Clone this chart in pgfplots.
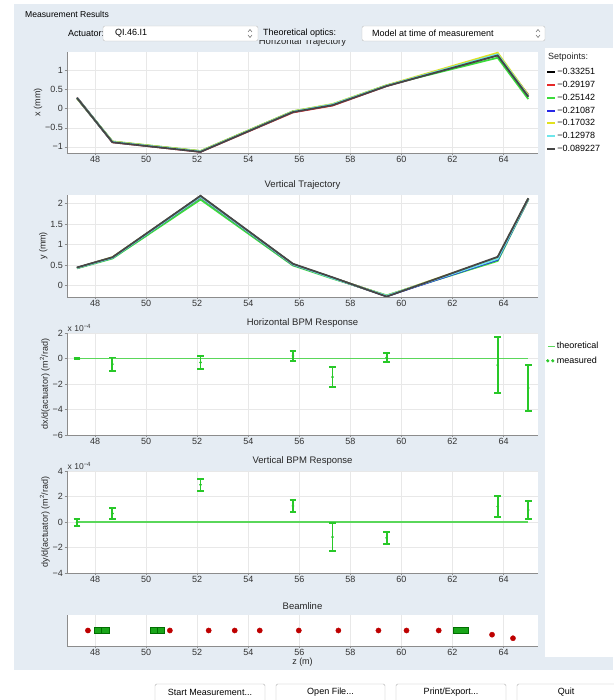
\documentclass[border=0pt]{standalone}
\usepackage{fontspec}
\setmainfont{Liberation Sans}
\usepackage{pgfplots}
\pgfplotsset{compat=1.18}
\definecolor{panel}{RGB}{229,236,243}
\definecolor{meas}{RGB}{40,200,40}
\definecolor{theo}{RGB}{90,215,90}
\definecolor{sp1}{RGB}{0,0,0}
\definecolor{sp2}{RGB}{230,40,40}
\definecolor{sp3}{RGB}{60,220,60}
\definecolor{sp4}{RGB}{40,40,230}
\definecolor{sp5}{RGB}{225,225,30}
\definecolor{sp6}{RGB}{110,230,235}
\definecolor{sp7}{RGB}{70,70,70}
\definecolor{bred}{RGB}{190,0,0}
\definecolor{bgreen}{RGB}{25,165,25}
\definecolor{bgreend}{RGB}{0,110,0}
\newcommand\fnt{\fontsize{9}{10}\selectfont}
\pgfplotsset{
  gui/.style={
    scale only axis, width=471pt,
    xmin=46.9, xmax=65.35,
    xtick={48,50,...,64},
    axis x line*=bottom, axis y line*=left,
    axis line style={black!45},
    tick style={black!45, line width=0.4pt},
    tick align=outside, major tick length=2.5pt,
    grid=major, major grid style={black!9, line width=0.3pt},
    ticklabel style={font=\fnt, text=black!80},
    xticklabel style={inner sep=1pt},
    yticklabel style={inner sep=1.5pt},
    /pgf/number format/assume math mode=true,
    every axis title/.style={at={(0.5,1)}, anchor=south, yshift=2pt, font=\fontsize{9.5}{11}\selectfont, text=black!85},
    label style={font=\fnt, text=black!85},
    ylabel style={inner sep=1pt},
    xlabel style={inner sep=1pt},
    axis background/.style={fill=white},
    legend cell align=left,
  },
  ebar/.style={meas, only marks, mark=*, mark size=1.1pt,
    error bars/.cd, y dir=both, y explicit,
    error bar style={line width=1.9pt, meas},
    error mark options={rotate=90, mark size=3.3pt, line width=1.9pt, meas},
    /pgfplots/.cd},
}
\begin{document}
\begin{tikzpicture}[x=1pt,y=1pt]
\useasboundingbox (0,0) rectangle (613,700);
\fill[white] (0,0) rectangle (613,700);
\fill[panel] (14,30) rectangle (613,696);
\fill[white] (545,43) rectangle (613,652);

% ---------- Horizontal trajectory
\begin{axis}[gui, name=ax1, at={(67pt,547pt)}, anchor=south west, height=101pt,
  ymin=-1.16, ymax=1.48, ytick={-1,-0.5,0,0.5,1}, yticklabels={−1,−0.5,0,0.5,1},
  ylabel={x (mm)}, title={Horizontal Trajectory},
  legend style={at={(1,1)}, anchor=north west, xshift=8pt, yshift=-15pt, draw=none, fill=none,
    font=\fnt, row sep=2.6pt, inner sep=0pt, nodes={inner sep=1.2pt}},
  legend image code/.code={\draw[#1, line width=2pt] (0pt,0pt) -- (8pt,0pt);},
  every axis plot/.append style={line width=1.8pt}]
\addplot[sp1] coordinates {(47.29,0.28) (48.68,-0.87) (52.13,-1.12) (55.75,-0.08) (57.30,0.10) (59.42,0.60) (63.77,1.41) (64.97,0.34)};
\addlegendentry{−0.33251}
\addplot[sp2] coordinates {(47.29,0.29) (48.68,-0.88) (52.13,-1.13) (55.75,-0.10) (57.30,0.08) (59.42,0.59) (63.77,1.40) (64.97,0.36)};
\addlegendentry{−0.29197}
\addplot[sp3] coordinates {(47.29,0.28) (48.68,-0.86) (52.13,-1.11) (55.75,-0.07) (57.30,0.11) (59.42,0.61) (63.77,1.33) (64.97,0.25)};
\addlegendentry{−0.25142}
\addplot[sp4] coordinates {(47.29,0.28) (48.68,-0.87) (52.13,-1.12) (55.75,-0.08) (57.30,0.10) (59.42,0.60) (63.77,1.40) (64.97,0.32)};
\addlegendentry{−0.21087}
\addplot[sp5] coordinates {(47.29,0.27) (48.68,-0.86) (52.13,-1.11) (55.75,-0.07) (57.30,0.12) (59.42,0.61) (63.77,1.46) (64.97,0.35)};
\addlegendentry{−0.17032}
\addplot[sp6] coordinates {(47.29,0.28) (48.68,-0.87) (52.13,-1.12) (55.75,-0.08) (57.30,0.11) (59.42,0.60) (63.77,1.42) (64.97,0.33)};
\addlegendentry{−0.12978}
\addplot[sp7] coordinates {(47.29,0.28) (48.68,-0.88) (52.13,-1.13) (55.75,-0.09) (57.30,0.09) (59.42,0.59) (63.77,1.39) (64.97,0.31)};
\addlegendentry{−0.089227}
\end{axis}

% ---------- Vertical trajectory
\begin{axis}[gui, name=ax2, at={(67pt,403pt)}, anchor=south west, height=102pt,
  ymin=-0.28, ymax=2.21, ytick={0,0.5,1,1.5,2}, yticklabels={0,0.5,1,1.5,2},
  ylabel={y (mm)}, title={Vertical Trajectory},
  every axis plot/.append style={line width=1.8pt}]
\addplot[sp1] coordinates {(47.29,0.43) (48.68,0.68) (52.13,2.18) (55.75,0.52) (57.30,0.19) (59.42,-0.26) (63.77,0.66) (64.97,2.12)};
\addplot[sp2] coordinates {(47.29,0.43) (48.68,0.68) (52.13,2.16) (55.75,0.51) (57.30,0.18) (59.42,-0.25) (63.77,0.64) (64.97,2.11)};
\addplot[sp3] coordinates {(47.29,0.42) (48.68,0.66) (52.13,2.10) (55.75,0.49) (57.30,0.17) (59.42,-0.24) (63.77,0.60) (64.97,2.10)};
\addplot[sp4] coordinates {(47.29,0.43) (48.68,0.68) (52.13,2.16) (55.75,0.51) (57.30,0.19) (59.42,-0.26) (63.77,0.63) (64.97,2.11)};
\addplot[sp5] coordinates {(47.29,0.43) (48.68,0.69) (52.13,2.17) (55.75,0.52) (57.30,0.19) (59.42,-0.25) (63.77,0.68) (64.97,2.12)};
\addplot[sp6] coordinates {(47.29,0.43) (48.68,0.68) (52.13,2.17) (55.75,0.52) (57.30,0.18) (59.42,-0.25) (63.77,0.65) (64.97,2.12)};
\addplot[sp7] coordinates {(47.29,0.44) (48.68,0.69) (52.13,2.19) (55.75,0.53) (57.30,0.20) (59.42,-0.27) (63.77,0.70) (64.97,2.13)};
\end{axis}

% ---------- Horizontal BPM response (units of 1e-4)
\begin{axis}[gui, name=ax3, at={(67pt,265pt)}, anchor=south west, height=102pt,
  ymin=-6, ymax=2, ytick={-6,-4,-2,0,2}, yticklabels={−6,−4,−2,0,2},
  ylabel={dx/d(actuator) (m\textsuperscript{2}/rad)}, title={Horizontal BPM Response},
  legend style={at={(1,1)}, anchor=north west, xshift=8pt, yshift=-8pt, draw=none, fill=none,
    font=\fnt, row sep=4pt, inner sep=0pt, nodes={inner sep=1.2pt}}]
\addplot[theo, line width=1.5pt,
  legend image code/.code={\draw[theo, line width=1.6pt] (0pt,0pt) -- (7pt,0pt);}]
  coordinates {(47.29,0) (48.68,0) (52.13,0) (55.75,0) (57.30,0) (59.42,0) (63.77,0) (64.97,0)};
\addlegendentry{theoretical}
\addplot[legend image code/.code={\fill[meas] (0pt,0pt) circle (1.4pt); \fill[meas] (5pt,0pt) circle (1.4pt);},
  ebar]
  table[x=z, y=v, y error=e] {
  z      v       e
  47.29  0.00    0.06
  48.68  -0.445  0.525
  52.13  -0.305  0.525
  55.75  0.20    0.40
  57.30  -1.46   0.76
  59.42  0.07    0.33
  63.77  -0.515  2.215
  64.97  -2.315  1.815
  };
\addlegendentry{measured}
\end{axis}

% ---------- Vertical BPM response (units of 1e-4)
\begin{axis}[gui, name=ax4, at={(67pt,127pt)}, anchor=south west, height=102pt,
  ymin=-4, ymax=4, ytick={-4,-2,0,2,4}, yticklabels={−4,−2,0,2,4},
  ylabel={dy/d(actuator) (m\textsuperscript{2}/rad)}, title={Vertical BPM Response}]
\addplot[theo, line width=1.5pt]
  coordinates {(47.29,0) (48.68,0) (52.13,0) (55.75,0) (57.30,0) (59.42,0) (63.77,0) (64.97,0)};
\addplot[ebar]
  table[x=z, y=v, y error=e] {
  z      v       e
  47.29  -0.02   0.26
  48.68  0.67    0.43
  52.13  2.915   0.485
  55.75  1.26    0.46
  57.30  -1.185  1.085
  59.42  -1.245  0.485
  63.77  1.215   0.845
  64.97  0.945   0.705
  };
\end{axis}

% ---------- Beamline
\begin{axis}[gui, name=ax5, at={(67pt,54pt)}, anchor=south west, height=31pt,
  ymin=-1, ymax=1, ytick=\empty, ymajorgrids=false,
  xlabel={z (m)}, title={Beamline}]
\addplot[bgreen, fill=bgreen, draw=bgreend, line width=0.4pt] coordinates {(47.96,-0.19) (48.25,-0.19) (48.25,0.19) (47.96,0.19)} -- cycle;
\addplot[bgreen, fill=bgreen, draw=bgreend, line width=0.4pt] coordinates {(48.25,-0.19) (48.55,-0.19) (48.55,0.19) (48.25,0.19)} -- cycle;
\addplot[bgreen, fill=bgreen, draw=bgreend, line width=0.4pt] coordinates {(50.15,-0.19) (50.43,-0.19) (50.43,0.19) (50.15,0.19)} -- cycle;
\addplot[bgreen, fill=bgreen, draw=bgreend, line width=0.4pt] coordinates {(50.43,-0.19) (50.72,-0.19) (50.72,0.19) (50.43,0.19)} -- cycle;
\addplot[bgreen, fill=bgreen, draw=bgreend, line width=0.4pt] coordinates {(62.04,-0.19) (62.60,-0.19) (62.60,0.19) (62.04,0.19)} -- cycle;
\addplot[bred, only marks, mark=*, mark size=2.6pt, mark options={draw=bred, fill=bred}] coordinates {
  (47.72,0) (50.93,0) (52.45,0) (53.47,0) (54.45,0) (55.98,0) (57.53,0)
  (59.10,0) (60.20,0) (61.46,0) (63.55,-0.27) (64.37,-0.50)};
\end{axis}

% scale labels and legend heading
\node[anchor=south west, inner sep=0.5pt, font=\fontsize{8.5}{10}\selectfont, text=black!80] at ([yshift=1pt]ax3.north west) {x 10\textsuperscript{−4}};
\node[anchor=south west, inner sep=0.5pt, font=\fontsize{8.5}{10}\selectfont, text=black!80] at ([yshift=1pt]ax4.north west) {x 10\textsuperscript{−4}};
\node[anchor=west, inner sep=0pt, font=\fnt, text=black!85] at (548,643) {Setpoints:};

% ---------- header widgets
\node[anchor=west, inner sep=0pt, font=\fontsize{8.6}{10}\selectfont] at (25,686) {Measurement Results};
\node[anchor=west, inner sep=0pt, font=\fnt] at (68,667) {Actuator:};
\draw[fill=white, draw=black!25, rounded corners=2pt] (103,659) rectangle (258,674);
\node[anchor=west, inner sep=0pt, font=\fnt] at (115,666.5) {QI.46.I1};
\draw[black!60, line width=0.5pt] (248,668) -- (250,670.5) -- (252,668) (248,665) -- (250,662.5) -- (252,665);
\fill[panel] (259,659.5) rectangle (359,676);
\node[anchor=west, inner sep=0pt, font=\fnt] at (263,667) {Theoretical optics:};
\draw[fill=white, draw=black!25, rounded corners=2pt] (362,659) rectangle (545,674);
\node[anchor=west, inner sep=0pt, font=\fnt] at (372,666.5) {Model at time of measurement};
\draw[black!60, line width=0.5pt] (536,668) -- (538,670.5) -- (540,668) (536,665) -- (538,662.5) -- (540,665);

% ---------- buttons
\draw[fill=white, draw=black!30, rounded corners=1.5pt] (155,-4) rectangle (265,16);
\node[font=\fnt] at (210,8) {Start Measurement...};
\draw[fill=white, draw=black!30, rounded corners=1.5pt] (276,-4) rectangle (385,16);
\node[font=\fnt] at (330.5,8) {Open File...};
\draw[fill=white, draw=black!30, rounded corners=1.5pt] (396,-4) rectangle (506,16);
\node[font=\fnt] at (451,8) {Print/Export...};
\draw[fill=white, draw=black!30, rounded corners=1.5pt] (517,-4) rectangle (625,16);
\node[font=\fnt] at (566,8) {Quit};
\end{tikzpicture}
\end{document}
